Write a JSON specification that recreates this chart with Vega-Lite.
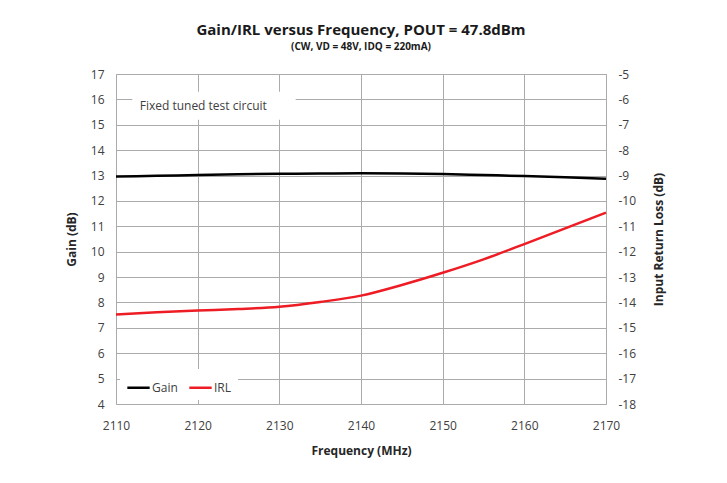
{
  "$schema": "https://vega.github.io/schema/vega-lite/v6.json",
  "width": 490,
  "height": 330,
  "autosize": {"type": "none"},
  "padding": {"left": 116, "top": 74, "right": 121, "bottom": 79},
  "background": "white",
  "config": {
    "font": "Open Sans",
    "view": {"stroke": "#a6a6a6", "strokeWidth": 1},
    "axis": {"labelFont": "Open Sans", "titleFont": "Open Sans", "labelColor": "#404040", "titleColor": "#262626", "labelFontSize": 12, "titleFontSize": 12, "domain": false, "ticks": false, "gridColor": "#ababab", "gridWidth": 1, "labelOverlap": false, "labelFlush": false}
  },
  "title": {
    "text": "Gain/IRL versus Frequency, POUT = 47.8dBm",
    "subtitle": "(CW, VD = 48V, IDQ = 220mA)",
    "fontSize": 15,
    "fontWeight": "bold",
    "subtitleFontSize": 10,
    "subtitleFontWeight": "bold",
    "subtitleFont": "Open Sans",
    "color": "#1a1a1a",
    "subtitleColor": "#1a1a1a",
    "anchor": "middle",
    "offset": 16,
    "subtitlePadding": 4
  },
  "data": {
    "values": [
      {"freq": 2110, "series": "Gain", "value": 12.96},
      {"freq": 2115, "series": "Gain", "value": 12.99},
      {"freq": 2120, "series": "Gain", "value": 13.02},
      {"freq": 2125, "series": "Gain", "value": 13.05},
      {"freq": 2130, "series": "Gain", "value": 13.07},
      {"freq": 2135, "series": "Gain", "value": 13.08},
      {"freq": 2140, "series": "Gain", "value": 13.09},
      {"freq": 2145, "series": "Gain", "value": 13.08},
      {"freq": 2150, "series": "Gain", "value": 13.06},
      {"freq": 2155, "series": "Gain", "value": 13.02},
      {"freq": 2160, "series": "Gain", "value": 12.98},
      {"freq": 2165, "series": "Gain", "value": 12.93},
      {"freq": 2170, "series": "Gain", "value": 12.87},
      {"freq": 2110, "series": "IRL", "value": -14.47},
      {"freq": 2115, "series": "IRL", "value": -14.39},
      {"freq": 2120, "series": "IRL", "value": -14.32},
      {"freq": 2125, "series": "IRL", "value": -14.26},
      {"freq": 2130, "series": "IRL", "value": -14.17},
      {"freq": 2135, "series": "IRL", "value": -13.98},
      {"freq": 2140, "series": "IRL", "value": -13.73},
      {"freq": 2145, "series": "IRL", "value": -13.31},
      {"freq": 2150, "series": "IRL", "value": -12.83},
      {"freq": 2155, "series": "IRL", "value": -12.3},
      {"freq": 2160, "series": "IRL", "value": -11.7},
      {"freq": 2165, "series": "IRL", "value": -11.08},
      {"freq": 2170, "series": "IRL", "value": -10.46}
    ]
  },
  "layer": [
    {
      "transform": [{"filter": "datum.series === 'Gain'"}],
      "layer": [
        {
          "mark": {"type": "line", "strokeWidth": 2.5, "interpolate": "monotone"},
          "encoding": {
            "x": {"field": "freq", "type": "quantitative", "scale": {"domain": [2110, 2170], "nice": false}, "axis": {"values": [2110, 2120, 2130, 2140, 2150, 2160, 2170], "title": "Frequency (MHz)", "titleFontWeight": "bold", "labelPadding": 16, "titlePadding": 14, "format": "d"}},
            "y": {"field": "value", "type": "quantitative", "scale": {"domain": [4, 17], "nice": false, "zero": false}, "axis": {"values": [4,5,6,7,8,9,10,11,12,13,14,15,16,17], "title": "Gain (dB)", "titleFontWeight": "bold", "labelPadding": 12, "titlePadding": 12}},
            "color": {"field": "series", "type": "nominal", "scale": {"domain": ["Gain", "IRL"], "range": ["#000000", "#ee1c24"]}, "legend": {"title": null, "orient": "bottom-left", "direction": "horizontal", "symbolType": "stroke", "symbolStrokeWidth": 2.5, "symbolSize": 500, "labelFontSize": 12, "labelColor": "#404040", "labelFont": "Open Sans", "fillColor": "white", "padding": 6, "offset": 4, "columnPadding": 6, "labelOffset": 1}}
          }
        },
        {
          "data": {"values": [{"x1": 2112, "x2": 2132, "y1": 15.2, "y2": 16.3, "label": "Fixed tuned test circuit", "tx": 2112.9, "ty": 15.74}]},
          "layer": [
            {"mark": {"type": "rect", "fill": "white"}, "encoding": {
              "x": {"field": "x1", "type": "quantitative", "axis": {"values": [2110, 2120, 2130, 2140, 2150, 2160, 2170], "title": "Frequency (MHz)", "titleFontWeight": "bold", "labelPadding": 16, "titlePadding": 14, "format": "d"}},
              "x2": {"field": "x2"},
              "y": {"field": "y1", "type": "quantitative", "axis": {"values": [4,5,6,7,8,9,10,11,12,13,14,15,16,17], "title": "Gain (dB)", "titleFontWeight": "bold", "labelPadding": 12, "titlePadding": 12}},
              "y2": {"field": "y2"}}},
            {"mark": {"type": "text", "align": "left", "baseline": "middle", "fontSize": 12, "color": "#404040", "font": "Open Sans"}, "encoding": {
              "x": {"field": "tx", "type": "quantitative", "axis": {"values": [2110, 2120, 2130, 2140, 2150, 2160, 2170], "title": "Frequency (MHz)", "titleFontWeight": "bold", "labelPadding": 16, "titlePadding": 14, "format": "d"}},
              "y": {"field": "ty", "type": "quantitative", "axis": {"values": [4,5,6,7,8,9,10,11,12,13,14,15,16,17], "title": "Gain (dB)", "titleFontWeight": "bold", "labelPadding": 12, "titlePadding": 12}},
              "text": {"field": "label"}}}
          ]
        }
      ]
    },
    {
      "transform": [{"filter": "datum.series === 'IRL'"}],
      "mark": {"type": "line", "strokeWidth": 2.5, "interpolate": "monotone"},
      "encoding": {
        "x": {"field": "freq", "type": "quantitative"},
        "y": {"field": "value", "type": "quantitative", "scale": {"domain": [-18, -5], "nice": false, "zero": false}, "axis": {"orient": "right", "grid": false, "values": [-18,-17,-16,-15,-14,-13,-12,-11,-10,-9,-8,-7,-6,-5], "labelExpr": "'' + datum.value", "title": "Input Return Loss (dB)", "titleFontWeight": "bold", "titleAngle": 270, "labelPadding": 12, "titlePadding": 30}},
        "color": {"field": "series", "type": "nominal"}
      }
    }
  ],
  "resolve": {"scale": {"y": "independent"}}
}
